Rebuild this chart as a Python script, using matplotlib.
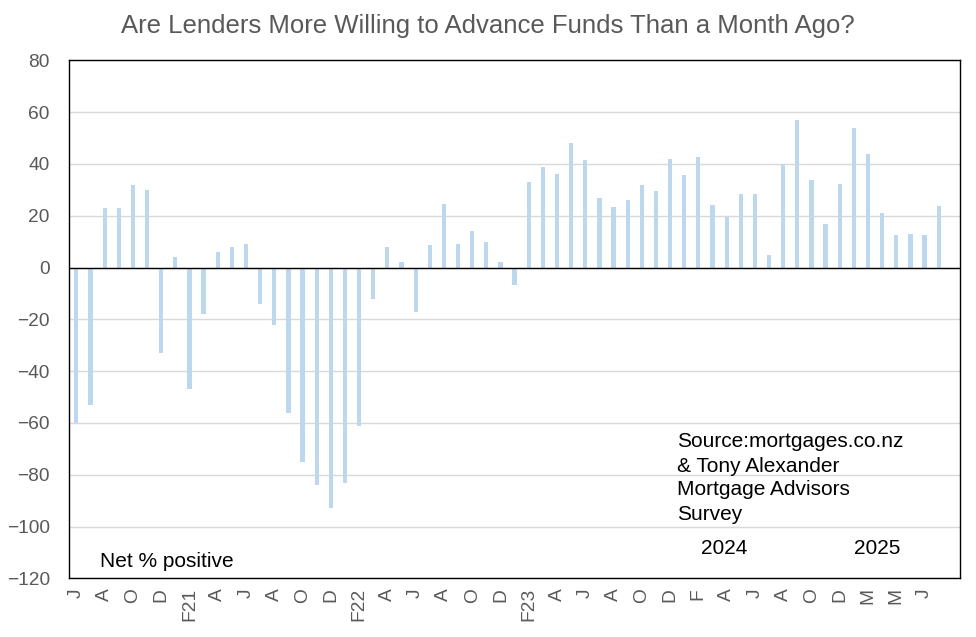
import matplotlib
matplotlib.use("Agg")
import matplotlib.pyplot as plt
import numpy as np

plt.rcParams['font.family'] = ['Liberation Sans', 'DejaVu Sans']

values = [-60, -53, 23, 23, 32, 30, -33, 4, -47, -18,
          6, 8, 9, -14, -22, -56, -75, -84, -93, -83,
          -61, -12, 8, 2, -17, 8.6, 24.7, 9, 14.3, 9.7,
          2, -6.7, 33, 39, 36.3, 48, 41.4, 27, 23.3, 26,
          32, 29.4, 42, 35.6, 42.6, 24, 19.4, 28.3, 28.3, 5,
          40, 57, 33.7, 17, 32.4, 53.7, 44, 21, 12.4, 13,
          12.4, 23.6]

tick_labels = ['J', 'A', 'O', 'D', 'F21', 'A', 'J', 'A', 'O', 'D',
               'F22', 'A', 'J', 'A', 'O', 'D', 'F23', 'A', 'J', 'A',
               'O', 'D', 'F', 'A', 'J', 'A', 'O', 'D', 'M', 'M', 'J']

title = "Are Lenders More Willing to Advance Funds Than a Month Ago?"
source_lines = ["Source:mortgages.co.nz", "& Tony Alexander",
                "Mortgage Advisors", "Survey"]

fig = plt.figure(figsize=(9.76, 6.37), dpi=100)
ax = fig.add_axes([0.071, 0.092, 0.9125, 0.8133])

x = np.arange(len(values))
ax.bar(x, values, width=0.3, color='#BDD7EE', zorder=2)
ax.axhline(0, color='black', linewidth=1, zorder=3)

ax.set_ylim(-120, 80)
ax.set_yticks(np.arange(-120, 81, 20))
ax.set_xlim(-0.5, len(values) + 0.5)
ax.set_xticks(np.arange(0, len(values), 2)[:len(tick_labels)])
ax.set_xticklabels(tick_labels, rotation=90)
ax.grid(axis='y', color='#D9D9D9', linewidth=1, zorder=0)
ax.set_axisbelow(True)

for s in ax.spines.values():
    s.set_color('black')
    s.set_linewidth(1)

ax.tick_params(axis='both', length=0, colors='#595959', labelsize=13.8)
ax.tick_params(axis='y', pad=14)
ax.tick_params(axis='x', pad=7)

fig.text(0.5, 0.9477, title, ha='center', va='baseline', fontsize=18.5, color='#595959')

ax.text(0.0345, 0.0212, "Net % positive", transform=ax.transAxes, fontsize=15,
        color='black', ha='left', va='baseline')
for line, yb in zip(source_lines, [0.254, 0.2058, 0.1608, 0.1125]):
    ax.text(0.682, yb, line, transform=ax.transAxes, fontsize=15,
            color='black', ha='left', va='baseline')
ax.text(0.7088, 0.0469, "2024", transform=ax.transAxes, fontsize=15,
        color='black', ha='left', va='baseline')
ax.text(0.8814, 0.0469, "2025", transform=ax.transAxes, fontsize=15,
        color='black', ha='left', va='baseline')

fig.savefig("out.png", dpi=100)
